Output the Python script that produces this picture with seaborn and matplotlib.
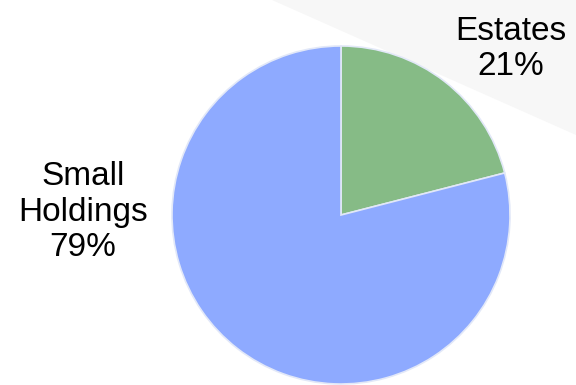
import matplotlib

matplotlib.use("Agg")

import matplotlib.pyplot as plt
import seaborn as sns
from matplotlib.patches import Polygon

labels = ["Estates", "Small\nHoldings"]
shares = [21, 79]
colors = ["#86bb86", "#8eaaff"]
label_pos = [(511, 336), (83, 173)]

sns.set_theme(style="white")
plt.rcParams["font.family"] = ["Liberation Sans", "DejaVu Sans"]

fig = plt.figure(figsize=(5.76, 3.85), dpi=100)
ax = fig.add_axes([0, 0, 1, 1])

# faint slide shadow in the upper right
ax.add_patch(Polygon([(272, 385), (576, 385), (576, 250)], closed=True,
                     facecolor="#f7f7f7", edgecolor="none", zorder=0))

ax.pie(
    shares,
    colors=colors,
    startangle=90,
    counterclock=False,
    center=(341, 170),
    radius=169,
    frame=True,
    wedgeprops={"edgecolor": "#e2e8f8", "linewidth": 1.2},
)
ax.set_xlim(0, 576)
ax.set_ylim(0, 385)
ax.set_axis_off()

for lab, val, (x, y) in zip(labels, shares, label_pos):
    ax.text(x, y, f"{lab}\n{val}%", ha="center", va="center",
            fontsize=24, color="black", linespacing=1.2)

fig.savefig("out.png", dpi=100)
